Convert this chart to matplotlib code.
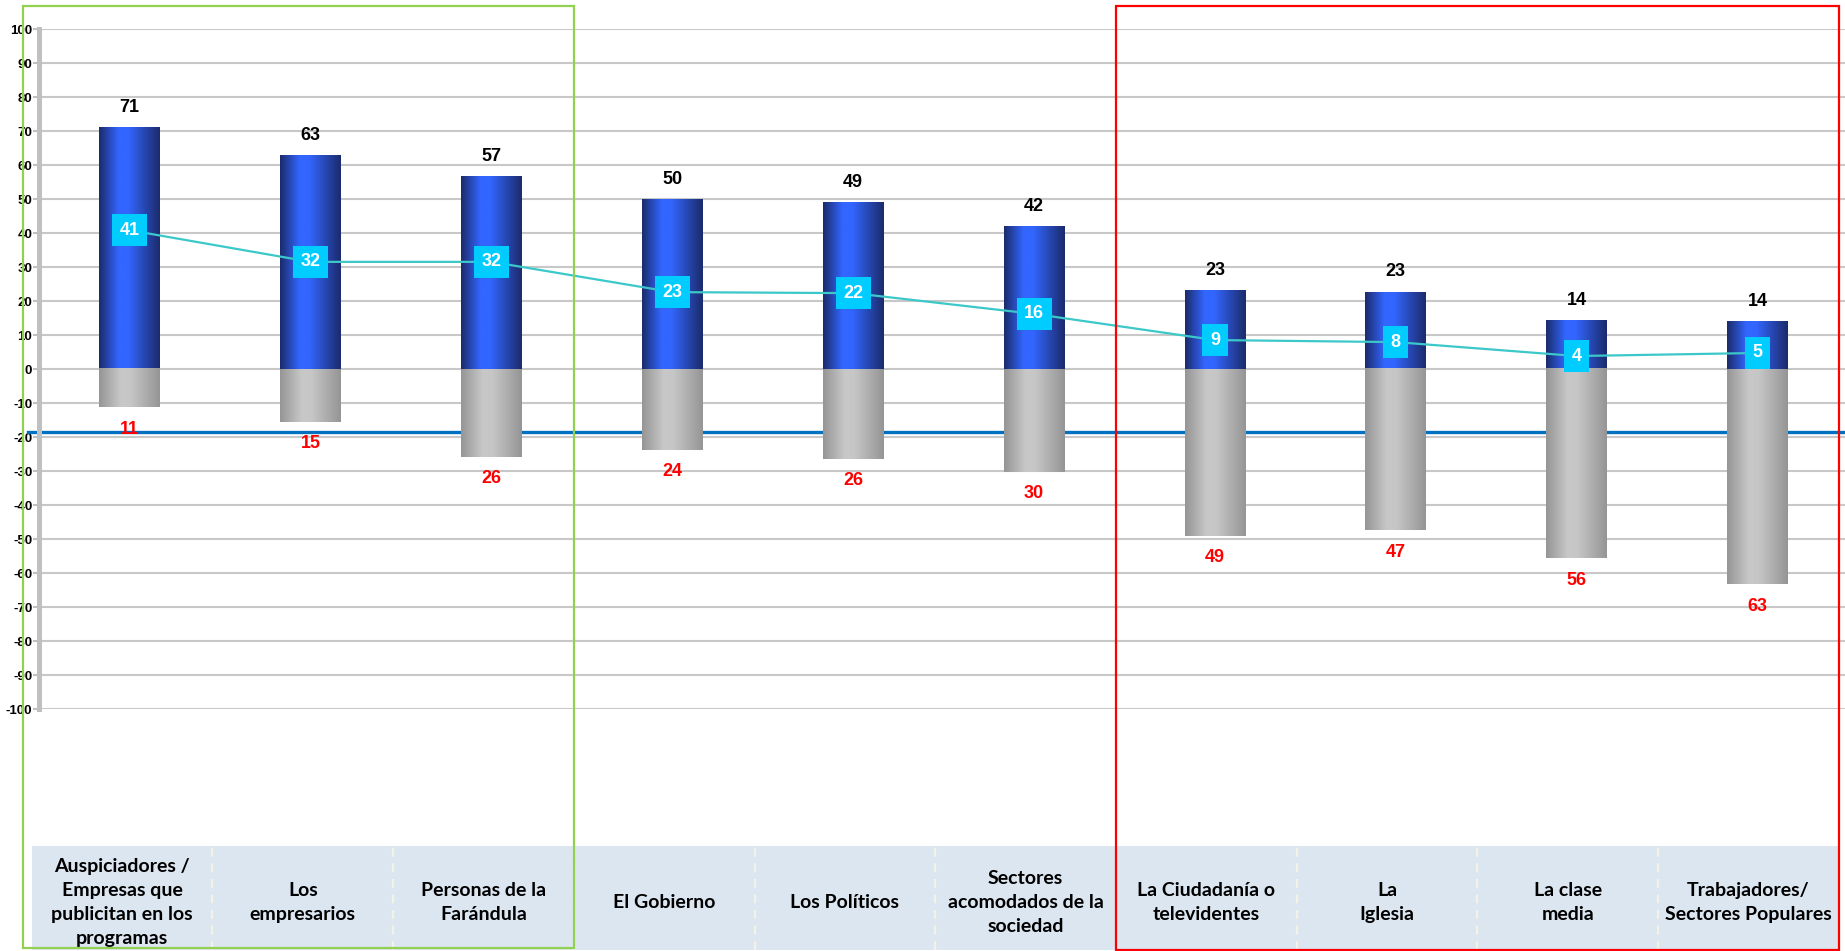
import numpy as np
import matplotlib
matplotlib.use("Agg")
import matplotlib.pyplot as plt
from matplotlib.patches import Rectangle
from matplotlib.colors import LinearSegmentedColormap

plt.rcParams.update({
    'font.family': ['Liberation Sans', 'DejaVu Sans'],
    'font.weight': 'bold',
})

# datos
categorias = ['Auspiciadores /\nEmpresas que\npublicitan en los\nprogramas',
              'Los\nempresarios',
              'Personas de la\nFarándula',
              'El Gobierno',
              'Los Políticos',
              'Sectores\nacomodados de la\nsociedad',
              'La Ciudadanía o\ntelevidentes',
              'La\nIglesia',
              'La clase\nmedia',
              'Trabajadores/\nSectores Populares']
positivo = [71.0, 62.7, 56.6, 49.8, 48.9, 41.9, 23.0, 22.6, 14.2, 13.9]
negativo = [-11.2, -15.4, -25.7, -23.6, -26.3, -30.1, -48.9, -47.4, -55.6, -63.1]
neto = [40.9, 31.6, 31.6, 22.7, 22.4, 16.3, 8.6, 8.0, 3.9, 4.8]
referencia = -18.4
yticks = list(range(-100, 101, 10))

W, H = 1845, 951
fig = plt.figure(figsize=(W / 100, H / 100), dpi=100)
fig.patch.set_facecolor('white')

ax = fig.add_axes([39.3 / W, (H - 709.3) / H, (1848 - 39.3) / W, 680 / H])
x = np.arange(len(categorias))
ancho = 0.336

azul = LinearSegmentedColormap.from_list('azul', [(0, '#1B2B6B'), (0.32, '#3366FF'),
                                                  (0.48, '#3366FF'), (1, '#1B2B6B')])
gris = LinearSegmentedColormap.from_list('gris', [(0, '#959595'), (0.36, '#C8C8C8'),
                                                  (0.52, '#C6C6C6'), (1, '#959595')])
grad = np.linspace(0, 1, 256).reshape(1, -1)

# linea de referencia (queda detras de las barras)
ax.axhline(referencia, xmin=-0.006, xmax=1, color='#0070C0', lw=2.4, zorder=2, clip_on=False)

barras_pos = ax.bar(x, positivo, width=ancho, color='none', zorder=3)
barras_neg = ax.bar(x, negativo, width=ancho, color='none', zorder=3)
for barras, cmap in ((barras_pos, azul), (barras_neg, gris)):
    for b in barras:
        x0, y0 = b.get_x(), b.get_y()
        ax.imshow(grad, cmap=cmap, aspect='auto', zorder=3, interpolation='bicubic',
                  extent=[x0, x0 + b.get_width(), y0, y0 + b.get_height()])

etiqueta = dict(ha='center', va='center', fontsize=13, fontweight='bold',
                family=['Liberation Sans Narrow', 'Liberation Sans'])
for xi, v in zip(x, positivo):
    ax.annotate(f'{v:.0f}', (xi, v), xytext=(0, 15), textcoords='offset points',
                color='black', **etiqueta)
for xi, v in zip(x, negativo):
    ax.annotate(f'{abs(v):.0f}', (xi, v), xytext=(0, -16), textcoords='offset points',
                color='#FF0000', **etiqueta)

ax.plot(x, neto, color='#3CC8C8', lw=1.6, zorder=4)
for xi, v in zip(x, neto):
    ax.text(xi, v, f'{v:.0f}', color='white', zorder=5,
            bbox=dict(boxstyle='square,pad=0.42', fc='#00CCFF', ec='none'), **etiqueta)

ax.set_xlim(-0.5, 9.5)
ax.set_ylim(-100, 100)
ax.set_yticks(yticks)
ax.set_yticklabels([str(t) for t in yticks])
ax.set_xticks([])
ax.tick_params(axis='y', length=4, width=1.5, color='#BFBFBF', labelsize=9.5,
               labelcolor='black', pad=1)
ax.yaxis.grid(True, color='#C8C8C8', lw=1.5)
ax.set_axisbelow(True)
for lado in ('top', 'right', 'bottom'):
    ax.spines[lado].set_visible(False)
ax.spines['left'].set_color('#C0C0C0')
ax.spines['left'].set_linewidth(3.6)

# tabla de categorias
tax = fig.add_axes([31.7 / W, 1 / H, 1807 / W, 104 / H])
tax.set_xlim(0, 10)
tax.set_ylim(0, 1)
tax.axis('off')
tax.add_patch(Rectangle((0, 0), 10, 1, fc='#DCE6F1', ec='none'))
for i in range(1, len(categorias)):
    tax.plot([i, i], [0, 1], color='#F4F2E6', lw=1.6, ls=(0, (4, 3)))
for i, c in enumerate(categorias):
    tax.text(i + 0.5, 0.46, c, ha='center', va='center', fontsize=14, fontweight='bold',
             family=['Lato', 'DejaVu Sans'], linespacing=1.5, color='black')

# recuadros verde y rojo
fig.add_artist(Rectangle((22.5 / W, (H - 948.3) / H), (573.7 - 22.5) / W, (948.3 - 5.7) / H,
                         transform=fig.transFigure, fill=False, ec='#92D050', lw=1.6))
fig.add_artist(Rectangle((1115.5 / W, (H - 950) / H), (1839 - 1115.5) / W, (950 - 5.7) / H,
                         transform=fig.transFigure, fill=False, ec='#FF0000', lw=1.6))

fig.savefig('out.png', dpi=100)
